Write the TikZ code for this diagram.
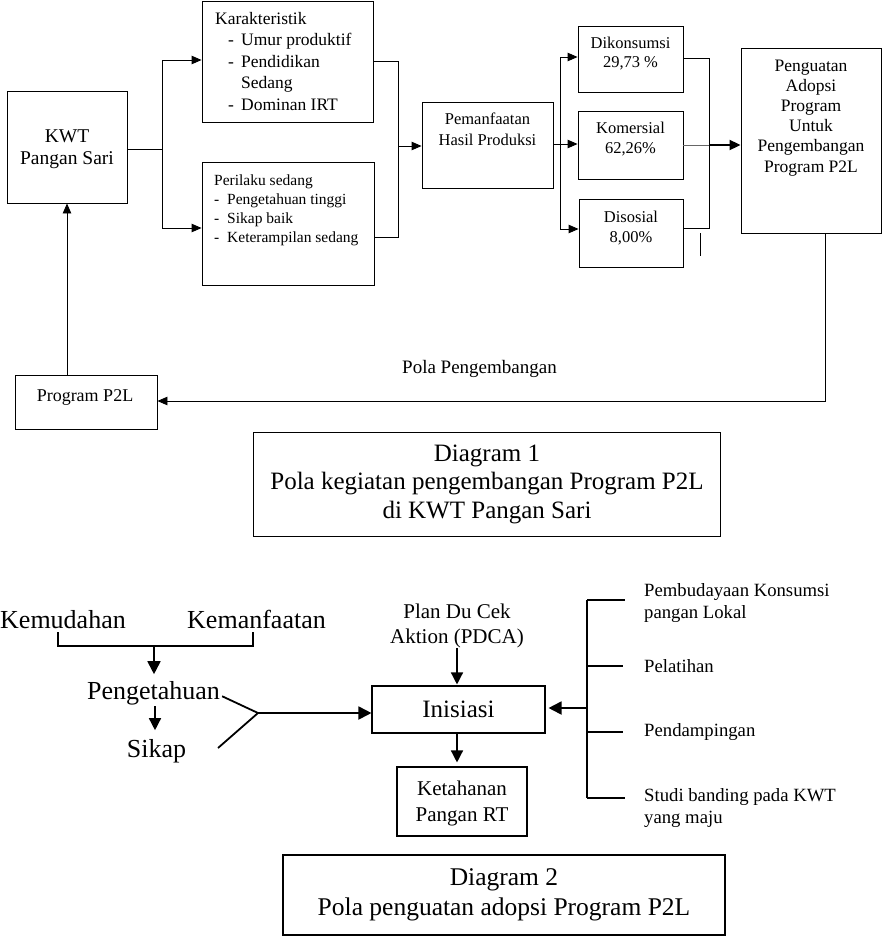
\documentclass[tikz,border=0pt]{standalone}
\usepackage{fontspec}
\setmainfont{Liberation Serif}
\usetikzlibrary{arrows.meta,calc}
\newcommand\fsz[2]{\fontsize{#1}{#2}\selectfont}
\begin{document}
\begin{tikzpicture}[x=1pt,y=-1pt,
  box/.style={draw, line width=0.9pt, inner sep=0pt},
  txt/.style={inner sep=0pt, anchor=north, align=center},
  ln/.style={line width=0.9pt},
  tarr/.style={line width=0.9pt, -{Triangle[length=10pt,width=8.5pt]}},
  karr/.style={line width=2pt, -{Triangle[length=11pt,width=10pt]}},
  bl/.style={line width=1.8pt},
  barr/.style={line width=1.8pt, -{Triangle[length=13pt,width=13pt]}},
  marr/.style={line width=1.4pt, -{Triangle[length=12pt,width=12pt]}}]
\useasboundingbox (0,0) rectangle (882,937);

% ---------------- Diagram 1 ----------------
\node[box, minimum width=120, minimum height=112] (kwt) at (67,147) {};
\node[txt, font=\fsz{19.5}{22}] (kwtT) at (67,130) {KWT\\Pangan Sari};

\node[box, minimum width=171, minimum height=121] (kar) at (287.5,61.5) {};
\node[txt, anchor=north west, align=left, font=\fsz{17.5}{21.5}] (karT) at (215,12)
  {Karakteristik\\
   \hspace*{13pt}\makebox[13pt][l]{-}Umur produktif\\
   \hspace*{13pt}\makebox[13pt][l]{-}Pendidikan\\
   \hspace*{26pt}Sedang\\
   \hspace*{13pt}\makebox[13pt][l]{-}Dominan IRT};

\node[box, minimum width=172, minimum height=123] (per) at (288,223.5) {};
\node[txt, anchor=north west, align=left, font=\fsz{15.5}{19}] (perT) at (214,174.4)
  {Perilaku sedang\\
   \makebox[13pt][l]{-}Pengetahuan tinggi\\
   \makebox[13pt][l]{-}Sikap baik\\
   \makebox[13pt][l]{-}Keterampilan sedang};

\node[box, minimum width=131, minimum height=86] (pem) at (487.5,145) {};
\node[txt, font=\fsz{16.5}{21}] (pemT) at (487.5,112.7) {Pemanfaatan\\Hasil Produksi};

\node[box, minimum width=105, minimum height=66] (dik) at (630.5,59) {};
\node[txt, font=\fsz{16.5}{19}] (dikT) at (630.5,36.7) {Dikonsumsi\\29,73 \%};

\node[box, minimum width=105, minimum height=68] (kom) at (630.5,145) {};
\node[txt, font=\fsz{16.5}{20}] (komT) at (630.5,121.7) {Komersial\\62,26\%};

\node[box, minimum width=104, minimum height=68] (dis) at (631,233) {};
\node[txt, font=\fsz{16.5}{20}] (disT) at (631,210.7) {Disosial\\8,00\%};

\node[box, minimum width=140, minimum height=185] (pen) at (811,140.5) {};
\node[txt, font=\fsz{17.5}{20.2}] (penT) at (811,59.4)
  {Penguatan\\Adopsi\\Program\\Untuk\\Pengembangan\\Program P2L};

\node[box, minimum width=142, minimum height=54] (pp) at (86,402) {};
\node[txt, font=\fsz{18}{21}] (ppT) at (85,389) {Program P2L};

\node[txt, font=\fsz{19}{22}] (pola) at (479.5,360) {Pola Pengembangan};

\node[box, minimum width=467, minimum height=104, align=center, font=\fsz{25}{28.5}] (cap1)
  at (487,484) {Diagram 1\\Pola kegiatan pengembangan Program P2L\\di KWT Pangan Sari};

% connectors diagram 1
\coordinate (j1) at (162,149);
\draw[ln] (kwt.east |- j1) -- (j1);
\draw[tarr] (j1) |- ($(kar.west)+(0,-1.5)$);
\draw[tarr] (j1) |- ($(per.west)+(0,4.5)$);

\coordinate (j2) at (398,146);
\draw[ln] (kar.east) -| (j2);
\draw[ln] ($(per.east)+(0,13.5)$) -| (j2);
\draw[tarr] (j2) -- (pem.west |- j2);

\coordinate (j3) at (560,144);
\draw[ln] (pem.east |- j3) -- (j3);
\draw[tarr] (j3) |- ($(dik.west)+(0,-2)$);
\draw[tarr] (j3) -- (kom.west |- j3);
\draw[tarr] (j3) |- ($(dis.west)+(0,-4)$);

\coordinate (j4) at (709,145);
\draw[ln] ($(dik.east)+(0,-1)$) -| (j4);
\draw[ln] ($(dis.east)+(0,-5)$) -| (j4);
\draw[ln, black!60] (kom.east |- j4) -- (j4);
\draw[karr] (j4) -- (pen.west |- j4);
\draw[ln] (700,233) -- (700,256);

\coordinate (j5) at (825,401);
\draw[tarr] (pen.south -| j5) -- (j5) -- (pp.east |- j5);
\draw[tarr] (kwt.south |- pp.north) -- (kwt.south);

% ---------------- Diagram 2 ----------------
\node[txt, font=\fsz{26}{30}] (kemu) at (63,610.2) {Kemudahan};
\node[txt, font=\fsz{26}{30}] (kemf) at (256.5,610.2) {Kemanfaatan};
\node[txt, font=\fsz{26}{30}] (peng) at (153.5,681.2) {Pengetahuan};
\node[txt, font=\fsz{26}{30}] (sikap) at (156.5,739.2) {Sikap};

\node[box, line width=1.1pt, minimum width=173, minimum height=47, font=\fsz{25}{28}] (ini)
  at (458.5,709.5) {Inisiasi};
\node[txt, font=\fsz{21}{25}] (pdca) at (457,603.7) {Plan Du Cek\\Aktion (PDCA)};
\node[box, line width=1.1pt, minimum width=130, minimum height=69] (ket) at (462,801.5) {};
\node[txt, font=\fsz{21}{26}] (ketT) at (462,780.7) {Ketahanan\\Pangan RT};

\node[txt, anchor=north west, align=left, font=\fsz{18.7}{22}] (pb) at (644,583.2)
  {Pembudayaan Konsumsi\\pangan Lokal};
\node[txt, anchor=north west, align=left, font=\fsz{18.7}{22}] (pl) at (644,659.2) {Pelatihan};
\node[txt, anchor=north west, align=left, font=\fsz{18.7}{22}] (pd) at (644,723.2) {Pendampingan};
\node[txt, anchor=north west, align=left, font=\fsz{18.7}{22}] (sb) at (644,788.2)
  {Studi banding pada KWT\\yang maju};

\node[box, line width=1.1pt, minimum width=442, minimum height=80, align=center,
  font=\fsz{25.5}{30}] (cap2) at (504,895) {Diagram 2\\Pola penguatan adopsi Program P2L};

% connectors diagram 2
\coordinate (b1) at (58,646);
\coordinate (b2) at (253,646);
\draw[bl] ($(b1)+(0,-14)$) -- (b1) -- (b2) -- ($(b2)+(0,-14)$);
\coordinate (bm) at (154,646);
\draw[barr, shorten >=7pt] (bm) -- (bm |- peng.north);
\coordinate (pm) at (155,706);
\draw[marr, shorten >=9pt] (pm) -- (pm |- sikap.north);

\coordinate (fk) at (258,713);
\coordinate (fs) at (218,748);
\draw[bl] ($(peng.east)+(2,3)$) -- (fk) -- (fs);
\draw[barr] (fk) -- (ini.west |- fk);

\draw[marr, shorten >=1pt] (pdca.south) -- (pdca.south |- ini.north);
\draw[marr, shorten >=4pt] (ini.south -| pdca.south) -- (ket.north -| pdca.south);

\coordinate (r1) at (587,600);
\coordinate (r2) at (587,798);
\coordinate (r3) at (587,708);
\draw[bl] (r1) -- (r2);
\draw[bl] (r1) -- ++(38,0);
\draw[bl] (r1 |- pl.west) -- ++(36,0);
\draw[bl] (r1 |- pd.west) -- ++(36,0);
\draw[bl] (r2) -- ++(38,0);
\draw[barr, shorten >=3pt] (r3) -- (ini.east |- r3);
\end{tikzpicture}
\end{document}
